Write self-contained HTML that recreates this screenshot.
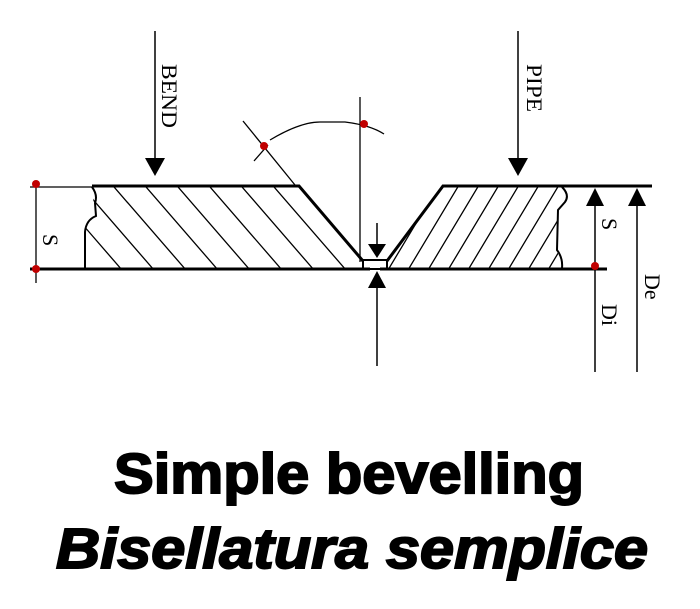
<!DOCTYPE html>
<html><head><meta charset="utf-8"><style>
html,body{margin:0;padding:0;background:#fff;}
svg{display:block;}
</style></head><body>
<svg width="700" height="609" viewBox="0 0 700 609" xmlns="http://www.w3.org/2000/svg">
<defs>
<clipPath id="cl"><path d="M92,187 L298,187 L362,261 L363,268 L86,268 L85,230 L95,218 Z"/></clipPath>
<clipPath id="cr"><path d="M443,187 L562,187 L565,200 L558,215 L557,250 L562,268 L388,268 L388,261 Z"/></clipPath>
</defs>
<g stroke="#000" fill="none">
<g clip-path="url(#cl)" stroke-width="1.3">
<path d="M50,150 L180,300 M82,150 L212,300 M114,150 L244,300 M146,150 L276,300 M178,150 L308,300 M210,150 L340,300 M242,150 L372,300 M274,150 L404,300 M18,150 L148,300"/>
</g>
<g clip-path="url(#cr)" stroke-width="1.3">
<path d="M460,150 L370,300 M480,150 L390,300 M500,150 L410,300 M520,150 L430,300 M540,150 L450,300 M560,150 L470,300 M580,150 L490,300 M600,150 L510,300 M620,150 L530,300"/>
</g>
<path d="M92,186 L299,186 L363,261" stroke-width="3"/>
<path d="M652,186 L443,186 L387,261" stroke-width="3"/>
<path d="M30,269 L370,269 M380,269 L607,269" stroke-width="3"/>
<path d="M92,187 Q98,195 95,203 L96,216 Q86,220 85,232 L85,268" stroke-width="2"/>
<path d="M562,187 Q570,195 565,202 L558,210 L557,250 Q563,258 562,268" stroke-width="2"/>
<rect x="363" y="260" width="24" height="9" stroke-width="2"/>
<path d="M30,187 L92,187 M36,187 L36,283" stroke-width="1.3"/>
<path d="M155,31 L155,160 M518,31 L518,160" stroke-width="1.5"/>
<path d="M360,97 L360,262" stroke-width="1.3"/>
<path d="M243,121 L295,185 M254,161 L268,145" stroke-width="1.3"/>
<path d="M270,140 Q300,122 320,122 L345,122 Q370,125 384,134" stroke-width="1.3"/>
<path d="M377,223 L377,245 M377,288 L377,366" stroke-width="1.5"/>
<path d="M595,203 L595,372 M637,203 L637,372" stroke-width="1.5"/>
</g>
<g fill="#000">
<polygon points="145,158 165,158 155,176"/>
<polygon points="508,158 528,158 518,176"/>
<polygon points="368,244 386,244 377,258"/>
<polygon points="368,288 386,288 377,271"/>
<polygon points="586,206 604,206 595,188"/>
<polygon points="628,206 646,206 637,188"/>
</g>
<g fill="#c00000">
<circle cx="36" cy="184" r="4"/><circle cx="36" cy="269" r="4"/>
<circle cx="264" cy="146" r="4"/><circle cx="364" cy="124" r="4"/>
<circle cx="595" cy="266" r="4"/>
</g>
<g font-family="Liberation Serif, serif" font-size="22" fill="#000">
<text transform="translate(162,64) rotate(90)" textLength="64" lengthAdjust="spacingAndGlyphs">BEND</text>
<text transform="translate(527,64) rotate(90)" textLength="48" lengthAdjust="spacingAndGlyphs">PIPE</text>
<text transform="translate(43,234) rotate(90)">S</text>
<text transform="translate(602,218) rotate(90)">S</text>
<text transform="translate(602,304) rotate(90)">Di</text>
<text transform="translate(645,274) rotate(90)">De</text>
</g>
<g font-family="Liberation Sans, Arial, sans-serif" font-weight="bold" fill="#000" stroke="#000" stroke-width="2">
<text x="114" y="493" font-size="57" textLength="470" lengthAdjust="spacingAndGlyphs">Simple bevelling</text>
<text x="56" y="568" font-size="57" font-style="italic" textLength="592" lengthAdjust="spacingAndGlyphs">Bisellatura semplice</text>
</g>
</svg>
</body></html>
